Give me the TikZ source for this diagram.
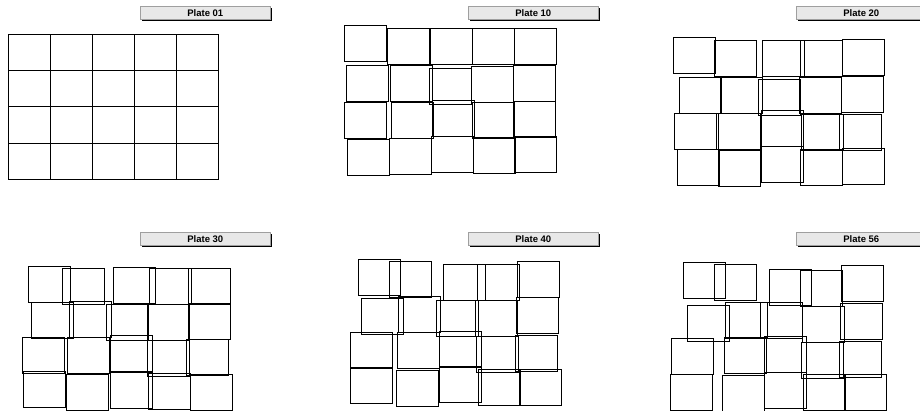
\documentclass[tikz,border=0pt]{standalone}
\usepackage{fontspec}
\setmainfont{Liberation Sans}
\usetikzlibrary{positioning}

\begin{document}
\begin{tikzpicture}[x=1pt, y=-1pt,
  tile/.style={draw=black, line width=0.8pt},
  platelabel/.style={draw=gray!75, fill=gray!18, line width=0.6pt, minimum width=130pt, minimum height=13pt, inner sep=0pt, anchor=north west, font=\fontsize{9.5}{10}\selectfont\bfseries}]
  \useasboundingbox (0,0) rectangle (920,411);
  \foreach \bx/\by/\txt in {140/6/01, 468/6/10, 796/6/20, 140/232/30, 468/232/40, 796/232/56} {
    \fill[black] (\bx+2,\by+2) rectangle (\bx+132,\by+15);
    \node[platelabel] (plate\txt) at (\bx,\by) {Plate \txt};
  }
  \foreach \c in {0,...,4} \foreach \r in {0,...,3} \draw[tile] (8.3+\c*42.1,34.3+\r*36.25) rectangle ++(42.1,36.25);
  \foreach \tx/\ty in {344/25.7, 387.3/28.7, 430.3/28, 472.3/28, 514.3/28,
      346.7/65.3, 390.7/65.3, 429/68, 471.7/66.7, 513.3/65.3,
      344.3/102, 391.3/102.3, 432/100, 472.3/102.7, 513.3/101.7,
      347/139.3, 389.3/138.7, 431.3/136.7, 473/137.3, 514/136.7}
    \draw[tile] (\tx,\ty) rectangle ++(42,36);
  \foreach \tx/\ty in {673.3/37, 714.7/40.3, 762.3/40.3, 800.7/40.3, 842.7/39.7,
      679.3/77.3, 720.7/77.3, 758.3/79, 799.3/77.3, 841.3/76.7,
      674.7/113.3, 718.7/113.3, 761.7/110.7, 801.3/114.7, 839.3/114,
      677/149.3, 718.7/150, 761/146.7, 800.3/149.3, 842.3/148.3}
    \draw[tile] (\tx,\ty) rectangle ++(42,36);
  \foreach \tx/\ty in {28.3/266, 62.3/268.3, 113.3/267.3, 149/268.3, 188/268.3,
      31.7/302.7, 69/301, 106.7/304, 147.7/304, 188.7/303.3,
      22.7/337.3, 67.3/337.3, 110/335.7, 147.7/340, 186.7/339.3,
      23.3/371.7, 66.3/374, 110/372, 148.7/373.3, 190/374}
    \draw[tile] (\tx,\ty) rectangle ++(42,36);
  \foreach \tx/\ty in {358.3/259.3, 389.3/261.3, 443.3/264, 477.3/264, 517/261.3,
      361/298.3, 398.7/296.7, 436/300, 475.3/300, 516.7/297.3,
      350/332.3, 397.7/332.7, 439.3/331, 476.7/336, 515/335,
      350/367.7, 396/370, 439.3/366.7, 478.3/369, 519.3/369}
    \draw[tile] (\tx,\ty) rectangle ++(42,36);
  \foreach \tx/\ty in {683.3/262, 714/264, 769.3/269.3, 800.7/270, 841.7/265,
      687.7/305.3, 725.3/302.7, 760/302.7, 802/306, 840.7/303.3,
      671/338.3, 724.3/337.3, 764.3/336.7, 801.7/342, 839.3/341.3,
      670.3/374.3, 722.7/375, 764.3/372, 803.3/374, 844/374}
    \draw[tile] (\tx,\ty) rectangle ++(42,36);
\end{tikzpicture}
\end{document}
